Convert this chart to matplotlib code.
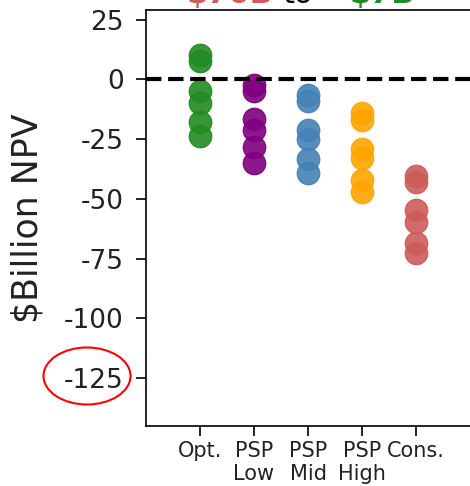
import numpy as np
import matplotlib
matplotlib.use("Agg")
import matplotlib.pyplot as plt
from matplotlib.patches import Ellipse

plt.rcParams["axes.unicode_minus"] = False

# scenario labels and NPV values ($ billion)
categories = ["Opt.", "PSP\nLow", "PSP\nMid", "PSP\nHigh", "Cons."]
opt = [10, 7.5, -5, -10, -18, -23.5]
psp_low = [-2.5, -5, -16.5, -21, -28.5, -35]
psp_mid = [-6.5, -9, -21, -25, -33.5, -39]
psp_high = [-14, -17, -29, -33, -42, -47]
cons = [-40.5, -43, -54.5, -59.5, -68.5, -72.5]
series = [opt, psp_low, psp_mid, psp_high, cons]
colors = ["forestgreen", "purple", "steelblue", "orange", "indianred"]
y_ticks = [25, 0, -25, -50, -75, -100, -125]

W, H = 470, 486
fig = plt.figure(figsize=(W / 100, H / 100), dpi=100)
# right spine sits just past the picture edge, as in the original crop
ax = fig.add_axes([146 / W, 1 - 426 / H, 328 / W, 416 / H])

for i, (vals, c) in enumerate(zip(series, colors)):
    ax.scatter(np.full(len(vals), i), vals, s=260, color=c, alpha=0.9, zorder=3)

ax.axhline(0, color="black", linestyle="--", linewidth=3, zorder=4)

ax.set_xlim(-1, -1 + 328 / 54)
ax.set_ylim(-145, 29)
ax.set_xticks(range(len(categories)))
ax.set_xticklabels(categories, fontsize=15, color="#222222")
ax.set_yticks(y_ticks)
ax.set_yticklabels([str(t) for t in y_ticks], fontsize=19, color="#222222")
ax.tick_params(length=7, width=1.2)
ax.tick_params(axis="y", pad=9)
for sp in ax.spines.values():
    sp.set_linewidth(1.2)
ax.set_ylabel("$Billion NPV", fontsize=25, color="#222222")
ax.yaxis.set_label_coords((45 - 146) / 328, 0.5)

# title pieces, mostly cut off by the top edge
ty = 1 - 3 / H
fig.text(187 / W, ty, "$70B", color="indianred", fontsize=22, va="baseline", fontweight="bold")
fig.text(282 / W, ty, "to", color="black", fontsize=22, va="baseline")
fig.text(350 / W, ty, "$7B", color="forestgreen", fontsize=22, va="baseline", fontweight="bold")

# red circle around the -125 label
fig.patches.append(Ellipse((87 / W, 1 - 376 / H), 87 / W, 57 / H, transform=fig.transFigure,
                           fill=False, edgecolor="red", linewidth=1.5))

plt.savefig("out.png", dpi=100)
plt.close()
